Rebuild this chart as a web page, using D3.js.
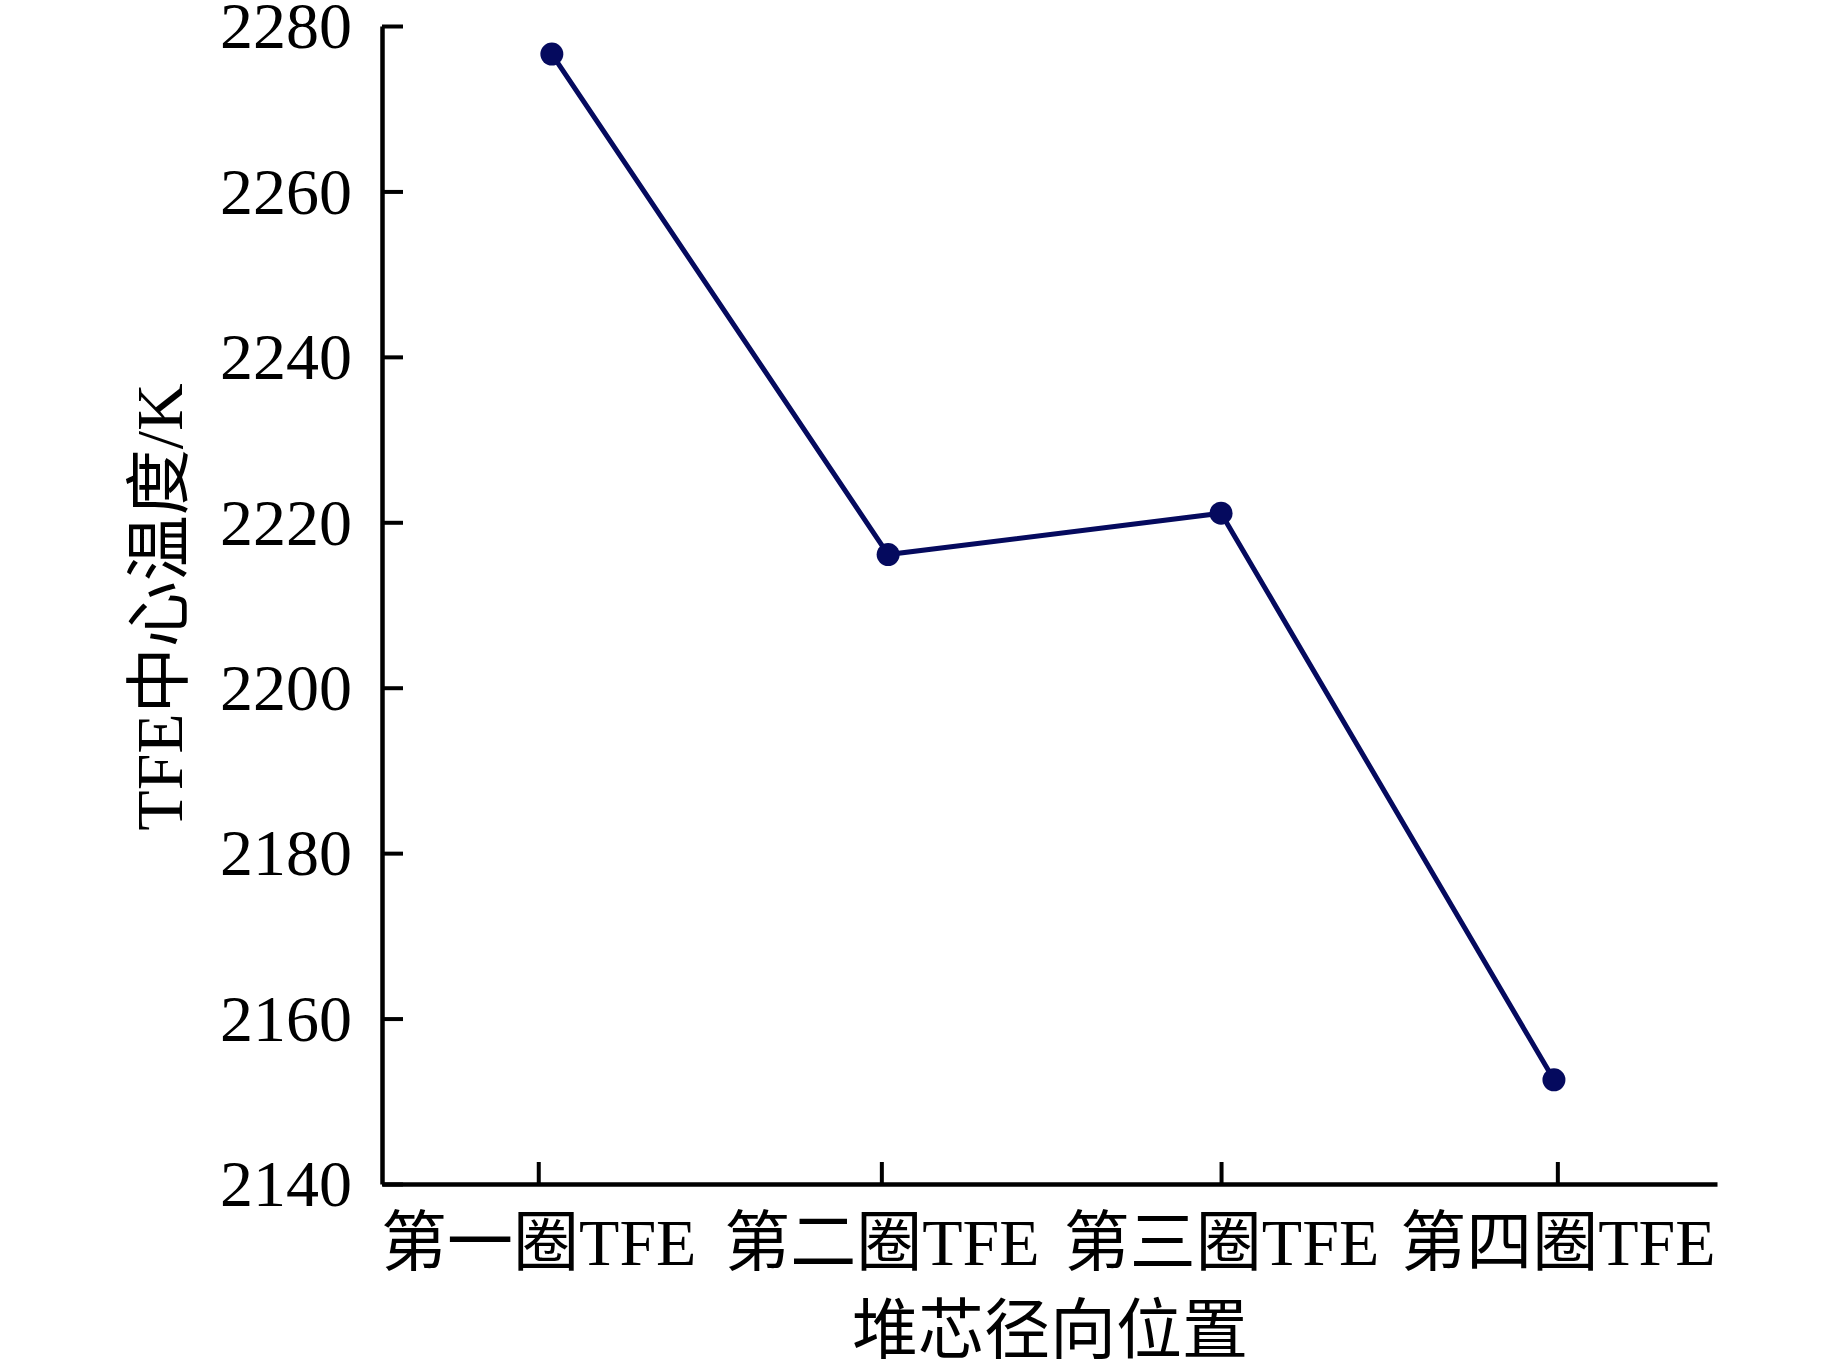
<!DOCTYPE html>
<html>
<head>
<meta charset="utf-8">
<script src="https://cdn.jsdelivr.net/npm/d3@7"></script>
<style>
  html, body { margin: 0; padding: 0; background: #fff; }
  svg { display: block; }
  text { font-family: "Liberation Serif", "Noto Sans CJK SC", serif; fill: #000; }
</style>
</head>
<body>
<script>
// ---- data ----
const categories = ["第一圈TFE", "第二圈TFE", "第三圈TFE", "第四圈TFE"];
const tickPositions = [1, 2.01, 3.01, 4];
const pointPositions = [1.04, 2.03, 3.01, 3.99];
const temperatures = [2276.6, 2216.1, 2221.1, 2152.6];
const yTicks = [2140, 2160, 2180, 2200, 2220, 2240, 2260, 2280];
const xTitle = "堆芯径向位置";
const yTitle = "TFE中心温度/K";

(function () {
const W = 1843, H = 1366;
const svg = d3.select("body").append("svg").attr("width", W).attr("height", H);

const mLeft = 382, mRight = 1717, mTop = 26, mBottom = 1184;

const x = d3.scaleLinear().domain([0.54, 4.47]).range([mLeft, mRight]);
const y = d3.scaleLinear().domain([2140, 2280]).range([mBottom, mTop]);

// y axis
const yAxis = d3.axisLeft(y).tickValues(yTicks).tickSize(-21).tickPadding(30).tickSizeOuter(0).tickFormat(d3.format("d"));
const gy = svg.append("g").attr("transform", `translate(${mLeft},0)`).call(yAxis);
gy.select(".domain").attr("stroke", "#000").attr("stroke-width", 4.5);
gy.selectAll(".tick line").attr("stroke", "#000").attr("stroke-width", 4);
gy.selectAll(".tick text").attr("font-size", 66).attr("font-family", "Liberation Serif").attr("dy", "0.33em");

// x axis
const xAxis = d3.axisBottom(x).tickValues(tickPositions).tickSize(-22).tickPadding(0).tickSizeOuter(0)
  .tickFormat((d, i) => categories[i]);
const gx = svg.append("g").attr("transform", `translate(0,${mBottom})`).call(xAxis);
gx.select(".domain").attr("stroke", "#000").attr("stroke-width", 4.5);
gx.selectAll(".tick line").attr("stroke", "#000").attr("stroke-width", 4);
gx.selectAll(".tick text").attr("font-size", 66).attr("y", 81).attr("dy", 0)
  .attr("font-family", "Liberation Serif, Noto Sans CJK SC");

// line
const pts = temperatures.map((v, i) => [pointPositions[i], v]);
svg.append("path")
  .datum(pts)
  .attr("fill", "none")
  .attr("stroke", "#050a5e")
  .attr("stroke-width", 5)
  .attr("d", d3.line().x(d => x(d[0])).y(d => y(d[1])));

svg.append("g").selectAll("circle").data(pts).join("circle")
  .attr("cx", d => x(d[0])).attr("cy", d => y(d[1])).attr("r", 11.5)
  .attr("fill", "#050a5e");

// titles
svg.append("text").attr("x", 1050).attr("y", 1353).attr("text-anchor", "middle")
  .attr("font-size", 66).text(xTitle);
svg.append("text").attr("transform", "translate(182,607) rotate(-90)").attr("text-anchor", "middle")
  .attr("font-size", 66).text(yTitle);
})();
</script>
</body>
</html>
